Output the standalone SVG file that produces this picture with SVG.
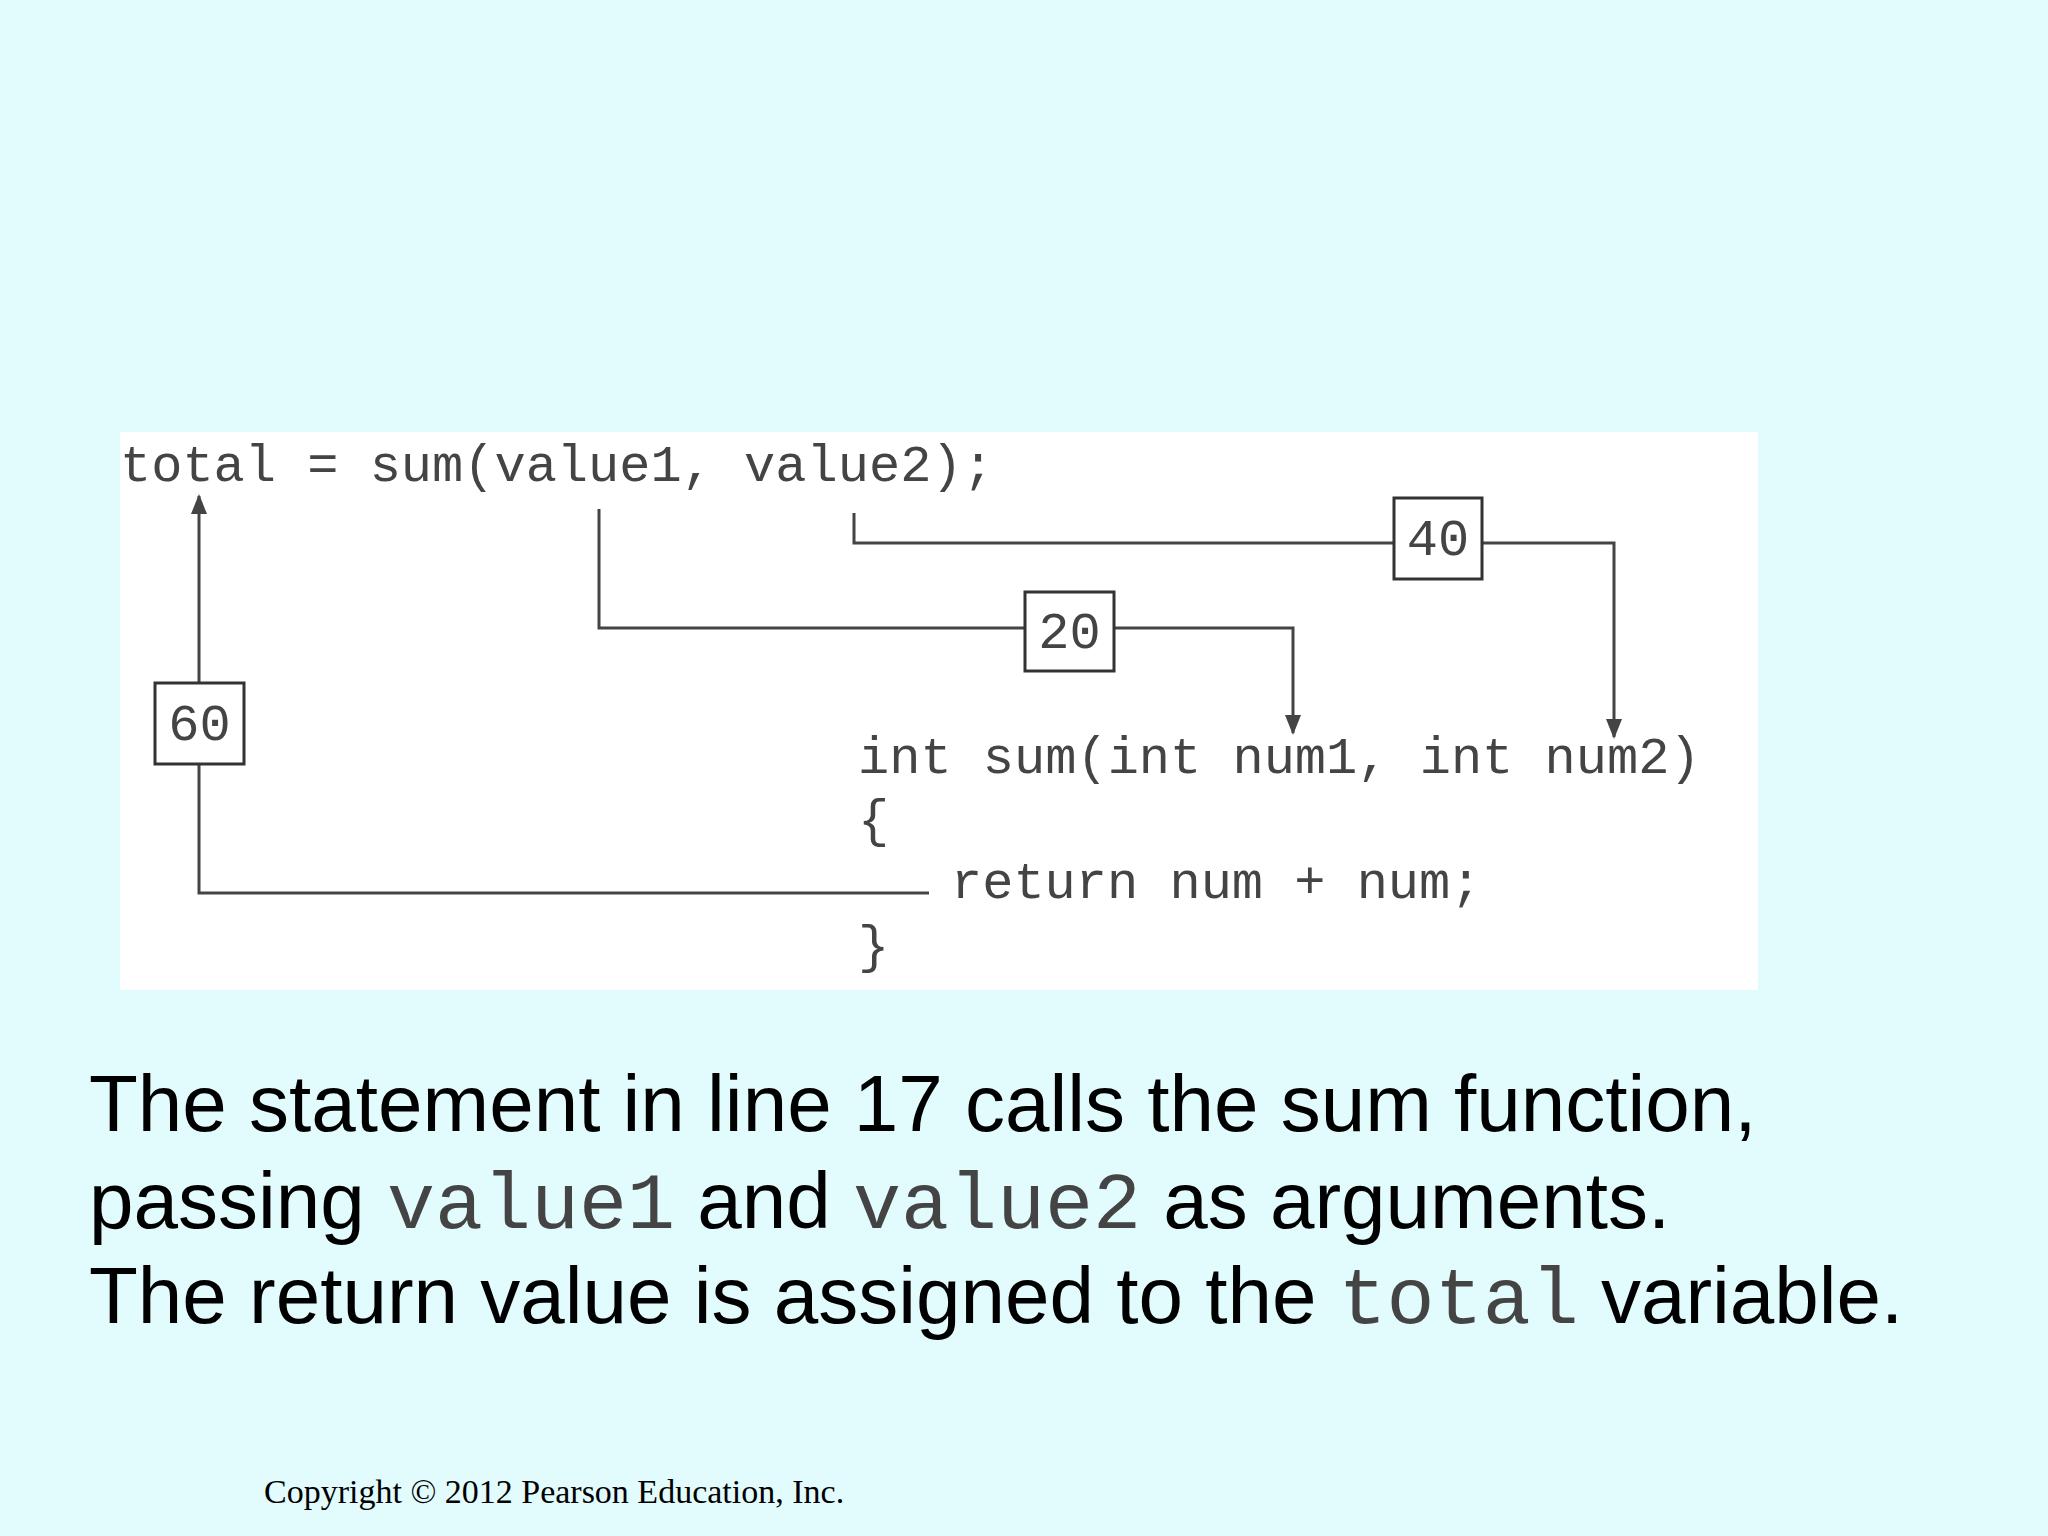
<svg xmlns="http://www.w3.org/2000/svg" width="2048" height="1536" viewBox="0 0 2048 1536">
<style>
.code{font-family:"Liberation Mono","DejaVu Sans Mono",monospace;font-size:52px;fill:#444}
.box{fill:#fff;stroke:#333;stroke-width:3}
.ln{fill:none;stroke:#444;stroke-width:3}
.body{font-family:"Liberation Sans",Arial,sans-serif;font-size:80px;fill:#000}
.mono{font-family:"Liberation Mono","Courier New",monospace;fill:#444}
</style>
<defs>
<marker id="a" viewBox="0 0 10 10" refX="9" refY="5" markerWidth="20" markerHeight="16" markerUnits="userSpaceOnUse" orient="auto" preserveAspectRatio="none"><path d="M0,0L10,5L0,10z" fill="#444"/></marker></defs>
<rect width="2048" height="1536" fill="#e2fbfd"/>
<rect x="120" y="432" width="1638" height="558" fill="#fff"/>
<g id="connectors">
<path class="ln" d="M599,509V628H1293V733" marker-end="url(#a)"/>
<path class="ln" d="M854,513V543H1614V737" marker-end="url(#a)"/>
<path class="ln" d="M929,893H199V496" marker-end="url(#a)"/>
</g>
<g id="call"><text class="code" x="120" y="481">total = sum(value1, value2);</text></g>
<g id="func">
<text class="code" x="858" y="773">int sum(int num1, int num2)</text>
<text class="code" x="858" y="836">{</text>
<text class="code" x="951" y="898">return num + num;</text>
<text class="code" x="858" y="962">}</text>
</g>
<g id="box20"><rect class="box" x="1025" y="592" width="89" height="79"/><text class="code" x="1069.5" y="648" text-anchor="middle">20</text></g>
<g id="box40"><rect class="box" x="1394" y="498" width="88" height="81"/><text class="code" x="1438" y="555" text-anchor="middle">40</text></g>
<g id="box60"><rect class="box" x="155" y="683" width="89" height="81"/><text class="code" x="199.5" y="740" text-anchor="middle">60</text></g>
<g id="caption">
<text class="body" x="89" y="1131">The statement in line 17 calls the sum function,</text>
<text class="body" x="89" y="1228">passing <tspan class="mono">value1</tspan> and <tspan class="mono">value2</tspan> as arguments.</text>
<text class="body" x="89" y="1323">The return value is assigned to the <tspan class="mono">total</tspan> variable.</text>
</g>
<text x="264" y="1503" font-family="Liberation Serif,serif" font-size="34">Copyright © 2012 Pearson Education, Inc.</text>
</svg>
